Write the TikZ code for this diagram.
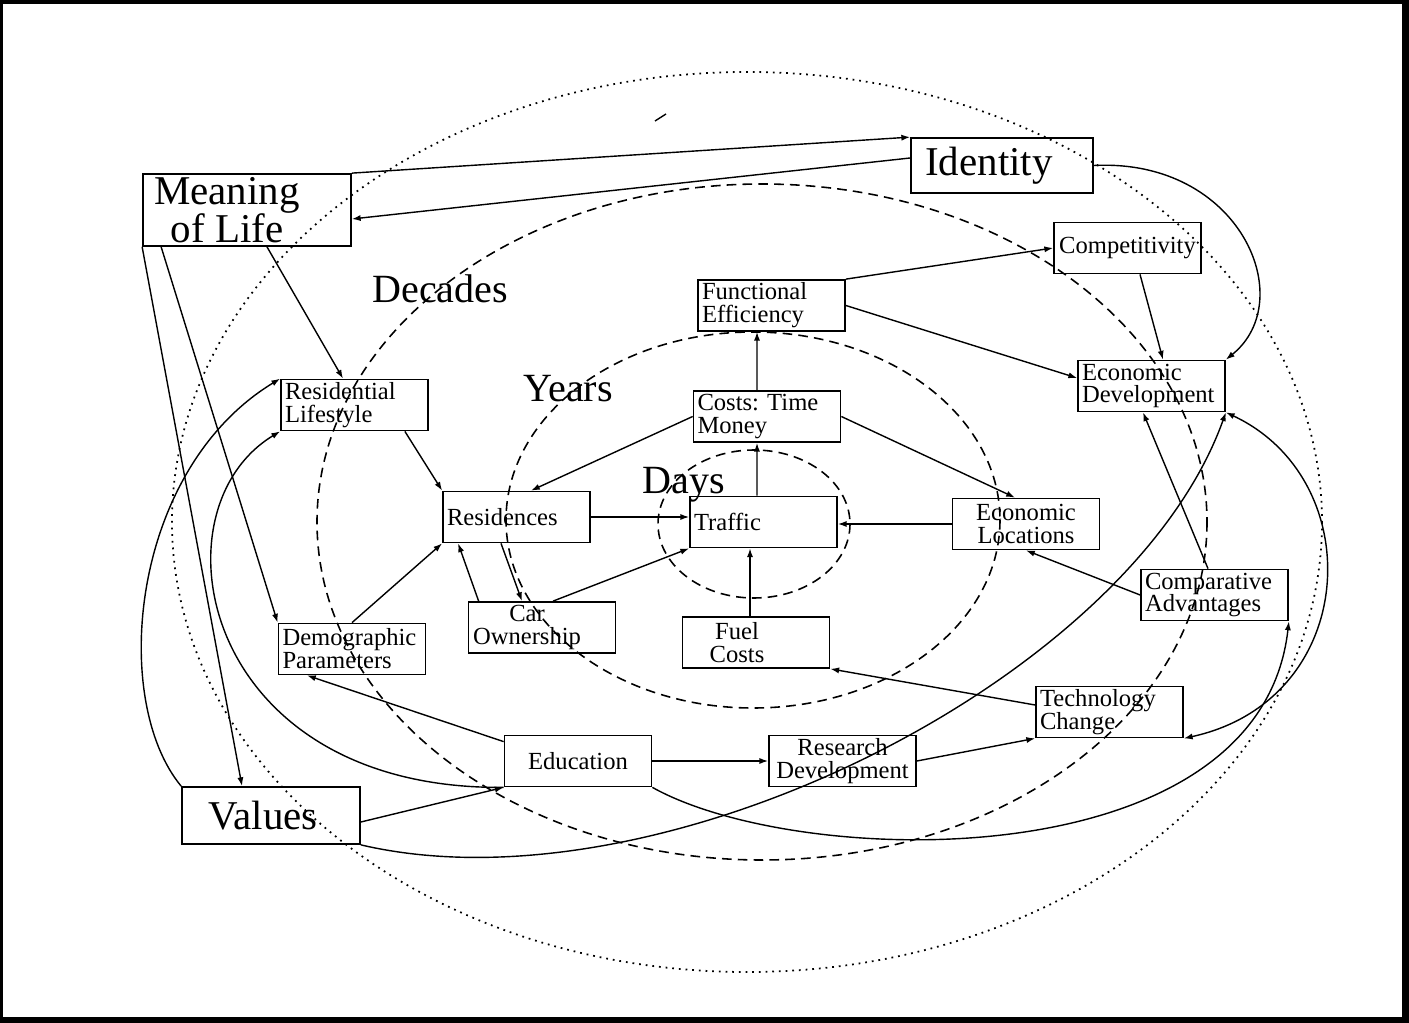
\documentclass[tikz,border=0pt]{standalone}
\usepackage{fontspec}
\setmainfont{Liberation Serif}
\usepackage{tikz}
\usetikzlibrary{arrows.meta}
\usetikzlibrary{calc}

\tikzset{
  box/.style={draw, line width=1pt, minimum width=2.94cm, minimum height=1.02cm, inner xsep=0.08cm, inner ysep=0pt, font=\fontsize{14}{13}\selectfont},
  boxl/.style={box, text width=2.78cm, align=left},
  boxc/.style={box, align=center},
  bigbox/.style={draw, line width=1pt, inner sep=0pt, align=center, font=\fontsize{23.3}{21.5}\selectfont},
  zone/.style={anchor=base west, inner sep=0pt, font=\fontsize{22.8}{24}\selectfont},
  link/.style={line width=0.8pt, -{Latex[length=5pt,width=3.5pt]}},
  twoway/.style={line width=0.8pt, {Latex[length=5pt,width=3.5pt]}-{Latex[length=5pt,width=3.5pt]}},
  dots/.style={line width=1pt, dash pattern=on 1pt off 2.8pt},
  dashes/.style={line width=0.9pt, dash pattern=on 5.5pt off 3.5pt},
}

\begin{document}
\begin{tikzpicture}[x=0.02cm,y=-0.02cm]
			%frame
			\fill (0,0) rectangle (1409,1023);
			\fill[white] (3,4) rectangle (1402,1017);
			\useasboundingbox (0,0) rectangle (1409,1023);
			%time scales
			\draw[dots] (747,522) ellipse [x radius=575, y radius=450];
			\draw[dashes] (762,522) ellipse [x radius=445, y radius=338];
			\draw[dashes] (753,520) ellipse [x radius=247, y radius=188];
			\draw[dashes] (754,524) ellipse [x radius=96, y radius=74];
			\node[zone] (decades) at (372,303) {Decades};
			\node[zone] (years) at (523,402) {Years};
			\node[zone] (days) at (642,493) {Days};
			\draw[line width=0.8pt] (655,121)--(666,114);
			%boxes
			\node[bigbox, minimum width=4.16cm, minimum height=1.44cm] (meaning) at (247,210) {Meaning\hspace*{0.8cm}\\of Life\hspace*{0.8cm}};
			\node[bigbox, minimum width=3.64cm, minimum height=1.1cm] (identity) at (1002,165.5) {Identity\hspace*{0.52cm}};
			\node[bigbox, minimum width=3.56cm, minimum height=1.14cm] (values) at (271,815.5) {Values\hspace*{0.32cm}};
			\node[boxc] (compet) at (1127.5,248) {Competitivity};
			\node[boxl] (funceff) at (771.5,305.5) {Functional\\Efficiency};
			\node[boxl] (ecodev) at (1151.5,386) {Economic\\Development};
			\node[boxl] (reslife) at (354.5,405) {Residential\\Lifestyle};
			\node[boxl] (costs) at (767,416.5) {Costs:\ Time\\Money};
			\node[boxl] (resid) at (516.5,517) {Residences};
			\node[boxl] (traffic) at (763.5,522) {Traffic};
			\node[boxc] (ecoloc) at (1026,524) {Economic\\Locations};
			\node[boxl] (compadv) at (1214.5,595) {Comparative\\Advantages};
			\node[boxl] (demog) at (352,649) {Demographic\\Parameters};
			\node[boxc] (carown) at (542,627.5) {Car\hspace*{0.6cm}\\Ownership\hspace*{0.6cm}};
			\node[boxc] (fuel) at (756,642.5) {Fuel\hspace*{0.76cm}\\Costs\hspace*{0.76cm}};
			\node[boxl] (techchg) at (1109.5,712) {Technology\\Change};
			\node[boxc] (educ) at (578,761) {Education};
			\node[boxc] (resdev) at (842.5,761) {Research\\Development};
			%top links
			\draw[link] (meaning.north east)--(identity.north west);
			\draw[link] ([yshift=0.15cm]identity.west)--([yshift=-0.18cm]meaning.east);
			\draw[link] ([xshift=0.4cm]meaning.south)--([xshift=-0.23cm]reslife.north);
			\draw[link] ([xshift=0.38cm]meaning.south west)--(demog.north west);
			\draw[link] (meaning.south west)--([xshift=-0.58cm]values.north);
			\draw[link] (identity.east) .. controls (1240,158) and (1300,300) .. (ecodev.north east);
			\draw[link] (funceff.north east)--(compet.west);
			\draw[link] (funceff.east)--([yshift=0.16cm]ecodev.west);
			\draw[link] ([xshift=0.25cm]compet.south)--([xshift=0.23cm]ecodev.north);
			%middle links
			\draw[link] ([xshift=-0.2cm]costs.north)--([xshift=-0.29cm]funceff.south);
			\draw[link] ([xshift=-0.13cm]traffic.north)--([xshift=-0.2cm]costs.south);
			\draw[link] (costs.west)--([xshift=0.29cm]resid.north);
			\draw[link] (costs.east)--([xshift=-0.22cm]ecoloc.north);
			\draw[link] ([xshift=-0.48cm]reslife.south east)--(resid.north west);
			\draw[link] (resid.east)--(resid.east -| traffic.west);
			\draw[link] (ecoloc.west)--(ecoloc.west -| traffic.east);
			\draw[link] ([xshift=-0.12cm]fuel.north)--([xshift=-0.12cm]fuel.north |- traffic.south);
			\draw[link] ([xshift=0.22cm]carown.north)--(traffic.south west);
			\draw[link] ([xshift=0.22cm]carown.north west)--([xshift=0.32cm]resid.south west);
			\draw[link] ([xshift=-0.31cm]resid.south)--([xshift=-0.4cm]carown.north);
			\draw[link] (demog.north)--(resid.south west);
			\draw[link] (compadv.west)--(ecoloc.south);
			\draw[link] ([xshift=-0.13cm]compadv.north)--([xshift=-0.17cm]ecodev.south);
			%bottom links
			\draw[link] ([yshift=-0.14cm]educ.north west)--([xshift=-0.9cm]demog.south);
			\draw[link] (educ.east)--(resdev.west);
			\draw[link] (resdev.east)--(techchg.south west);
			\draw[link] ([yshift=0.14cm]techchg.west)--(fuel.south east);
			\draw[link] ([yshift=-0.13cm]values.east)--(educ.south west);
			%long curves
			\draw[link] (values.north west) .. controls (110,700) and (130,470) .. (reslife.north west);
			\draw[link] (educ.south west) .. controls (200,790) and (150,510) .. (reslife.south west);
			\draw[link] (values.south east) .. controls (660,915) and (1130,680) .. (ecodev.south east);
			\draw[link] (educ.south east) .. controls (800,870) and (1260,880) .. (compadv.south east);
			\draw[twoway] (ecodev.south east) .. controls (1370,480) and (1360,700) .. (techchg.south east);
\end{tikzpicture}
\end{document}
